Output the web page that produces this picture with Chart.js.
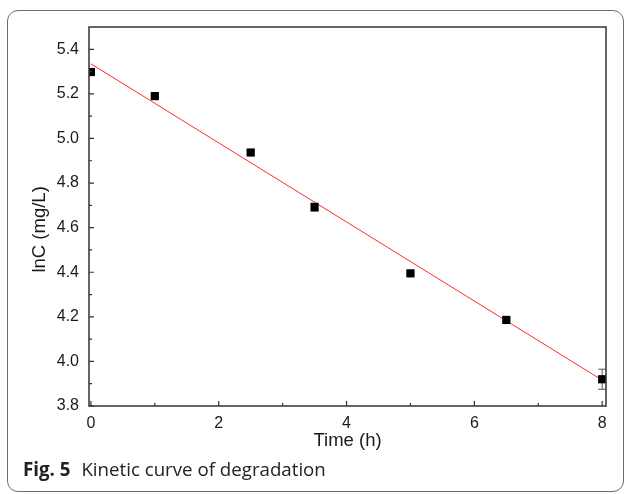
<!DOCTYPE html>
<html>
<head>
<meta charset="utf-8">
<script src="https://cdn.jsdelivr.net/npm/chart.js@4/dist/chart.umd.min.js"></script>
<style>
  html, body { margin: 0; padding: 0; background: #fff; }
  #wrap { position: relative; width: 627px; height: 494px; overflow: hidden; }
  #box {
    position: absolute; left: 7px; top: 10px; width: 615px; height: 480px;
    border: 1.5px solid #6e6e6e; border-radius: 11px;
  }
  #cap {
    position: absolute; left: 23px; top: 456px;
    font-family: "Open Sans", sans-serif; font-size: 18.7px; color: #222;
    white-space: nowrap;
  }
  #cap b { font-weight: 700; margin-right: 11px; }
  canvas { position: absolute; left: 0; top: 0; }
</style>
</head>
<body>
<div id="wrap">
  <div id="box"></div>
  <canvas id="myChart" width="627" height="494"></canvas>
  <div id="cap"><b>Fig. 5</b>Kinetic curve of degradation</div>
</div>
<script>
// measured points
const timeH = [0, 1, 2.5, 3.5, 5, 6.5, 8];
const lnC = [5.298, 5.19, 4.937, 4.692, 4.395, 4.186, 3.92];
const lnCErr = [0.005, 0.006, 0.008, 0.018, 0.006, 0.006, 0.045];

// linear fit line ends
const fitX = [0, 8];
const fitY = [5.335, 3.916];

const xTicks = [0, 2, 4, 6, 8];
const xMinor = [1, 3, 5, 7];
const yTicks = [3.8, 4.0, 4.2, 4.4, 4.6, 4.8, 5.0, 5.2, 5.4];
const yMinor = [3.9, 4.1, 4.3, 4.5, 4.7, 4.9, 5.1, 5.3];

const axisColor = '#333';
const textColor = '#1a1a1a';

// error bars, drawn under the squares
const errorBars = {
    id: 'errorBars',
    beforeDatasetsDraw(chart) {
        const {ctx, chartArea, scales: {x, y}} = chart;
        ctx.save();
        ctx.beginPath();
        ctx.rect(chartArea.left, chartArea.top, chartArea.right - chartArea.left, chartArea.bottom - chartArea.top);
        ctx.clip();
        ctx.strokeStyle = '#555';
        ctx.lineWidth = 1;
        for (let i = 0; i < timeH.length; i++) {
            const px = x.getPixelForValue(timeH[i]);
            const top = y.getPixelForValue(lnC[i] + lnCErr[i]);
            const bot = y.getPixelForValue(lnC[i] - lnCErr[i]);
            ctx.beginPath();
            ctx.moveTo(px, top); ctx.lineTo(px, bot);
            ctx.moveTo(px - 4, top); ctx.lineTo(px + 4, top);
            ctx.moveTo(px - 4, bot); ctx.lineTo(px + 4, bot);
            ctx.stroke();
        }
        ctx.restore();
    }
};

// box frame with inward ticks
const frameTicks = {
    id: 'frameTicks',
    afterDatasetsDraw(chart) {
        const {ctx, chartArea: a, scales: {x, y}} = chart;
        ctx.save();
        ctx.strokeStyle = axisColor;
        ctx.lineWidth = 1.5;
        ctx.strokeRect(a.left, a.top, a.right - a.left, a.bottom - a.top);
        ctx.lineWidth = 1.2;
        ctx.beginPath();
        xTicks.forEach(v => { const p = x.getPixelForValue(v); ctx.moveTo(p, a.bottom); ctx.lineTo(p, a.bottom - 5); });
        xMinor.forEach(v => { const p = x.getPixelForValue(v); ctx.moveTo(p, a.bottom); ctx.lineTo(p, a.bottom - 3); });
        yTicks.forEach(v => { const p = y.getPixelForValue(v); ctx.moveTo(a.left, p); ctx.lineTo(a.left + 5, p); });
        yMinor.forEach(v => { const p = y.getPixelForValue(v); ctx.moveTo(a.left, p); ctx.lineTo(a.left + 3, p); });
        ctx.stroke();
        ctx.restore();
    }
};

new Chart(document.getElementById('myChart'), {
    type: 'scatter',
    data: {
        datasets: [{
            label: 'lnC',
            data: timeH.map((t, i) => ({x: t, y: lnC[i]})),
            pointStyle: 'rect',
            pointRadius: 5.8,
            pointHoverRadius: 5.8,
            backgroundColor: '#000',
            borderColor: '#000',
            borderWidth: 0,
            order: 1
        }, {
            type: 'line',
            label: 'fit',
            data: fitX.map((t, i) => ({x: t, y: fitY[i]})),
            borderColor: '#ff2a2a',
            borderWidth: 1,
            pointRadius: 0,
            fill: false,
            order: 2
        }]
    },
    options: {
        responsive: false,
        animation: false,
        layout: { padding: { left: 0, right: 21, top: 27, bottom: 0 } },
        plugins: { legend: { display: false }, tooltip: { enabled: false } },
        scales: {
            x: {
                type: 'linear',
                min: -0.03,
                max: 8.06,
                grid: { display: false, drawTicks: false },
                border: { display: false },
                afterBuildTicks: s => { s.ticks = xTicks.map(v => ({value: v})); },
                afterFit: s => { s.height = 88; },
                ticks: {
                    padding: 8,
                    color: textColor,
                    font: { family: 'Liberation Sans, Arial', size: 16 },
                    callback: v => String(v)
                },
                title: {
                    display: true,
                    text: 'Time (h)',
                    color: textColor,
                    font: { family: 'Liberation Sans, Arial', size: 18.5 },
                    padding: { top: 0, bottom: 42 }
                }
            },
            y: {
                type: 'linear',
                min: 3.8,
                max: 5.5,
                grid: { display: false, drawTicks: false },
                border: { display: false },
                afterBuildTicks: s => { s.ticks = yTicks.map(v => ({value: v})); },
                afterFit: s => { s.width = 89; },
                ticks: {
                    padding: 10,
                    color: textColor,
                    font: { family: 'Liberation Sans, Arial', size: 16 },
                    callback: v => v.toFixed(1)
                },
                title: {
                    display: true,
                    // trailing spaces push the label a bit lower, as in the figure
                    text: 'lnC (mg/L)     ',
                    color: textColor,
                    font: { family: 'Liberation Sans, Arial', size: 18.5 },
                    padding: { top: 29, bottom: 0 }
                }
            }
        }
    },
    plugins: [errorBars, frameTicks]
});
</script>
</body>
</html>
